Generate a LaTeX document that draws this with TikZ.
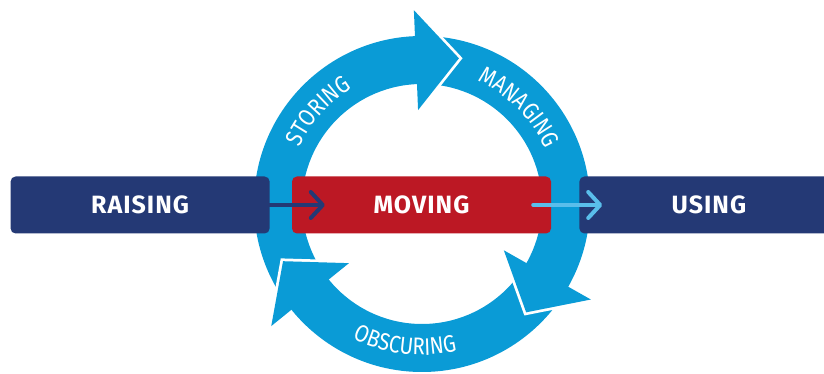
\documentclass[tikz,border=0pt]{standalone}
\usepackage{fontspec}
\setmainfont{Fira Sans}
\newfontfamily\stagefont[LetterSpace=4]{Fira Sans}
\newfontfamily\ringfont[FakeStretch=0.85]{Fira Sans}
\newcommand\ringsize{\fontsize{24}{27}\selectfont}
\usetikzlibrary{positioning, arrows.meta, decorations.text}
\definecolor{navyFill}{HTML}{243975}
\definecolor{moveFill}{HTML}{BC1824}
\definecolor{ringFill}{HTML}{0A9BD6}
\definecolor{flowColor}{HTML}{5ABEEB}
\tikzset{
    Stage/.style = {
        rounded corners=5pt,
        minimum width=259pt,
        minimum height=57pt,
        inner sep=0pt,
        text=white,
        font=\stagefont\bfseries\fontsize{25}{29}\selectfont
    },
    Flow/.style = {
        line width=4pt,
        line cap=round,
        -{Straight Barb[length=12pt, width=26pt, line cap=round, line join=round]}
    },
    RingLabel/.style = {
        decorate,
        decoration={
            text along path,
            text align=center,
            text color=white,
            text={|\ringfont\ringsize|#1}
        }
    }
}

\begin{document}
\begin{tikzpicture}[x=1pt, y=1pt]
    \clip (0,0) rectangle (824,374);
    \coordinate (hub) at (422,170);
    \fill[ringFill, even odd rule] (hub) circle[radius=168] (hub) circle[radius=120];
    \foreach \a in {92.4, -29.5, 219} {
        \begin{scope}[shift={(hub)}, rotate=\a]
            \draw[white, line width=5.5pt] (194,0) -- (144,-43) -- (94,0);
            \fill[ringFill] (194,0) -- (144,-43) -- (94,0) -- cycle;
        \end{scope}
    }
    \begin{scope}
        \ringfont\ringsize
        \path[RingLabel=STORING] ([shift={(168.3:135)}]hub) arc[start angle=168.3, end angle=108.3, radius=135];
        \path[RingLabel=MANAGING] ([shift={(80:135)}]hub) arc[start angle=80, end angle=10, radius=135];
        \path[RingLabel=OBSCURING] ([shift={(223:151)}]hub) arc[start angle=223, end angle=303, radius=151];
    \end{scope}
    \node [Stage, fill=moveFill] (moving) at (421.5,169) {MOVING};
    \node [Stage, fill=navyFill, left=22pt of moving] (raising) {RAISING};
    \node [Stage, fill=navyFill, right=28pt of moving] (using) {USING};
    \coordinate [right=33pt of moving.west] (movingIn);
    \coordinate [left=18pt of moving.east] (movingOut);
    \coordinate [right=23pt of using.west] (usingIn);
    \draw [Flow, navyFill] (raising.east) -- (movingIn);
    \draw [Flow, flowColor] (movingOut) -- (usingIn);
\end{tikzpicture}
\end{document}
